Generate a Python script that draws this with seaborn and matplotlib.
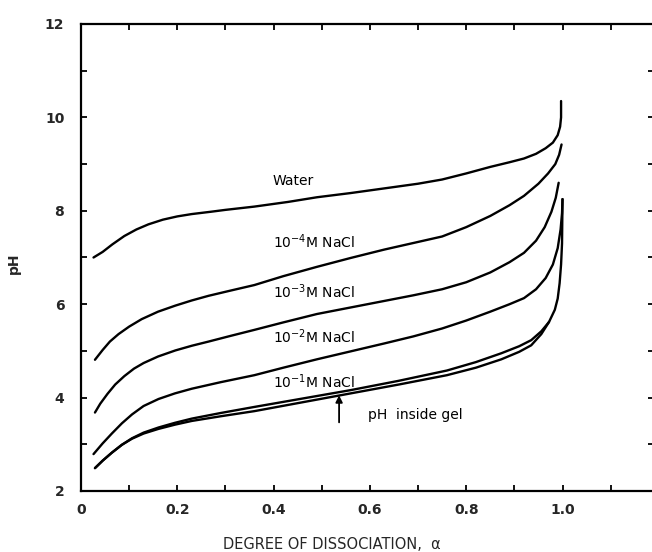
import pandas as pd
import seaborn as sns
import matplotlib.pyplot as plt
import matplotlib.ticker as ticker

# titration curves: degree of dissociation vs pH
water_x = [0.026, 0.045, 0.065, 0.09, 0.115, 0.14, 0.17, 0.2, 0.23, 0.27, 0.30, 0.36, 0.43, 0.49, 0.56,
           0.63, 0.70, 0.75, 0.80, 0.85, 0.89, 0.92, 0.945, 0.965, 0.98, 0.99, 0.995, 0.997, 0.997]
water_y = [7.0, 7.12, 7.28, 7.46, 7.6, 7.71, 7.81, 7.88, 7.93, 7.98, 8.02, 8.09, 8.19, 8.29, 8.38,
           8.48, 8.58, 8.67, 8.80, 8.94, 9.04, 9.12, 9.22, 9.34, 9.46, 9.62, 9.8, 10.0, 10.35]

nacl4_x = [0.029, 0.045, 0.06, 0.078, 0.1, 0.126, 0.16, 0.196, 0.23, 0.265, 0.31, 0.36, 0.42, 0.49,
           0.56, 0.63, 0.69, 0.75, 0.80, 0.85, 0.89, 0.92, 0.95, 0.97, 0.985, 0.993, 0.998]
nacl4_y = [4.81, 5.02, 5.2, 5.36, 5.52, 5.68, 5.84, 5.97, 6.08, 6.18, 6.29, 6.41, 6.60, 6.80,
           6.99, 7.17, 7.31, 7.45, 7.65, 7.89, 8.12, 8.32, 8.58, 8.80, 9.0, 9.2, 9.42]

nacl3_x = [0.029, 0.04, 0.055, 0.071, 0.09, 0.11, 0.13, 0.16, 0.196, 0.23, 0.265, 0.31, 0.36, 0.42,
           0.49, 0.56, 0.63, 0.69, 0.75, 0.80, 0.85, 0.89, 0.92, 0.945, 0.963, 0.977, 0.986, 0.992]
nacl3_y = [3.68, 3.87, 4.08, 4.28, 4.46, 4.62, 4.74, 4.88, 5.01, 5.11, 5.20, 5.32, 5.45, 5.61,
           5.79, 5.93, 6.07, 6.19, 6.32, 6.47, 6.68, 6.9, 7.1, 7.36, 7.65, 7.98, 8.28, 8.6]

nacl2_x = [0.026, 0.045, 0.064, 0.085, 0.106, 0.13, 0.161, 0.195, 0.23, 0.29, 0.36, 0.42, 0.49, 0.56,
           0.63, 0.69, 0.75, 0.80, 0.85, 0.89, 0.92, 0.945, 0.965, 0.98, 0.99, 0.996, 0.999, 1.0]
nacl2_y = [2.79, 3.02, 3.23, 3.45, 3.64, 3.82, 3.97, 4.09, 4.19, 4.33, 4.48, 4.64, 4.82, 4.99,
           5.16, 5.31, 5.48, 5.65, 5.84, 6.0, 6.13, 6.32, 6.56, 6.85, 7.2, 7.6, 7.95, 8.25]

nacl1_x = [0.029, 0.045, 0.064, 0.085, 0.106, 0.13, 0.161, 0.195, 0.23, 0.29, 0.36, 0.46, 0.56, 0.66,
           0.76, 0.82, 0.873, 0.91, 0.935, 0.956, 0.972, 0.984, 0.99, 0.994, 0.997, 0.999, 1.0]
nacl1_y = [2.49, 2.65, 2.82, 2.99, 3.13, 3.25, 3.36, 3.46, 3.55, 3.67, 3.80, 3.98, 4.16, 4.36,
           4.58, 4.76, 4.95, 5.1, 5.23, 5.42, 5.62, 5.88, 6.12, 6.45, 6.85, 7.3, 8.25]

gel_x = [0.029, 0.045, 0.064, 0.085, 0.106, 0.13, 0.161, 0.195, 0.23, 0.29, 0.36, 0.46, 0.56, 0.66,
         0.76, 0.82, 0.873, 0.91, 0.935, 0.956, 0.972]
gel_y = [2.49, 2.65, 2.82, 2.99, 3.12, 3.23, 3.33, 3.42, 3.50, 3.60, 3.71, 3.90, 4.09, 4.28,
         4.48, 4.64, 4.82, 4.98, 5.12, 5.36, 5.62]

curve_labels = ['Water', r'10$^{-4}$M NaCl', r'10$^{-3}$M NaCl', r'10$^{-2}$M NaCl', r'10$^{-1}$M NaCl']
label_y = [8.63, 7.34, 6.27, 5.30, 4.34]

sns.set_theme(style='ticks')
plt.rcParams['font.family'] = ['DejaVu Sans']
plt.rcParams['mathtext.fontset'] = 'dejavusans'

fig = plt.figure(figsize=(6.52, 5.52), dpi=100)
ax = fig.add_axes([81 / 652, 61 / 552, 573 / 652, 467 / 552])

for xs, ys in [(water_x, water_y), (nacl4_x, nacl4_y), (nacl3_x, nacl3_y),
               (nacl2_x, nacl2_y), (nacl1_x, nacl1_y), (gel_x, gel_y)]:
    df = pd.DataFrame({'alpha': xs, 'pH': ys})
    sns.lineplot(data=df, x='alpha', y='pH', color='black', linewidth=1.7,
                 sort=False, estimator=None, ax=ax)

for txt, yy in zip(curve_labels, label_y):
    ax.text(0.398, yy, txt, fontsize=10, va='center', ha='left', color='black')

ax.text(0.595, 3.62, 'pH  inside gel', fontsize=10, va='center', ha='left', color='black')
ax.annotate('', xy=(0.536, 4.05), xytext=(0.536, 3.47),
            arrowprops=dict(arrowstyle='-|>', color='black', lw=1.3,
                            mutation_scale=10, shrinkA=0, shrinkB=0))

ax.set_xlim(0, 1.19)
ax.set_ylim(2, 12)
ax.xaxis.set_major_locator(ticker.MultipleLocator(0.2))
ax.xaxis.set_minor_locator(ticker.MultipleLocator(0.1))
ax.yaxis.set_major_locator(ticker.MultipleLocator(2))
ax.yaxis.set_minor_locator(ticker.MultipleLocator(1))
ax.xaxis.set_major_formatter(ticker.FuncFormatter(lambda v, p: '0' if abs(v) < 1e-9 else f'{v:.1f}'))
ax.yaxis.set_major_formatter(ticker.FuncFormatter(lambda v, p: f'{v:.0f}'))

ax.tick_params(which='both', direction='in', top=True, right=True,
               labeltop=False, labelright=False, length=4, width=1.3, color='black')
ax.tick_params(axis='x', which='major', pad=9)
ax.tick_params(axis='y', which='major', pad=12)
for lab in ax.get_xticklabels() + ax.get_yticklabels():
    lab.set_fontweight('bold')
    lab.set_fontsize(10)
for sp in ax.spines.values():
    sp.set_linewidth(1.6)
    sp.set_color('black')

ax.set_xlabel('DEGREE OF DISSOCIATION,  α', fontsize=10.5)
ax.xaxis.set_label_coords(0.438, -0.098)
ax.set_ylabel('pH', fontsize=10, fontweight='bold')
ax.yaxis.set_label_coords(-0.105, 0.488)

fig.savefig('out.png', dpi=100)
